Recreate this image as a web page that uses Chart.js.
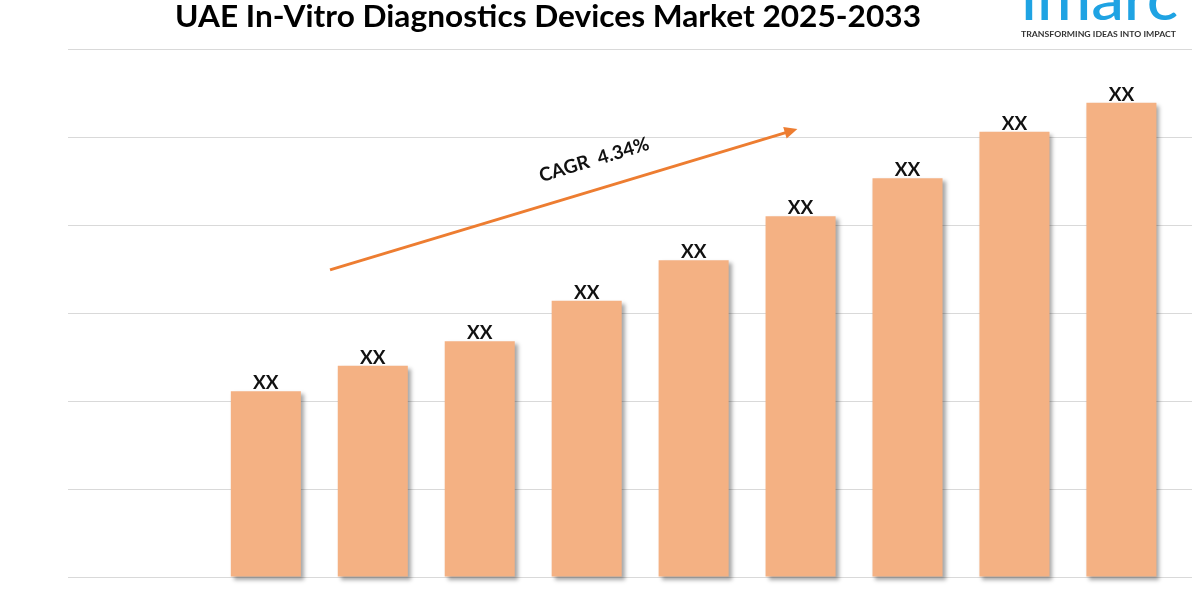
<!DOCTYPE html>
<html><head><meta charset="utf-8">
<script src="https://cdn.jsdelivr.net/npm/chart.js@4/dist/chart.umd.min.js"></script>
<style>html,body{margin:0;padding:0;background:#fff}#wrap{width:1200px;height:600px;position:relative}</style>
</head><body><div id="wrap"><canvas id="c" width="1200" height="600"></canvas></div>
<script>
// ---- data ----
const years = [2025, 2026, 2027, 2028, 2029, 2030, 2031, 2032, 2033];
const values = [2.11, 2.40, 2.68, 3.14, 3.60, 4.10, 4.53, 5.06, 5.39];
const valueLabels = ['XX', 'XX', 'XX', 'XX', 'XX', 'XX', 'XX', 'XX', 'XX'];
const yTicks = [0, 1, 2, 3, 4, 5, 6];
const titleText = 'UAE In-Vitro Diagnostics Devices Market 2025-2033';
const cagrText = 'CAGR  4.34%';
const arrowFrom = [2025.6, 3.49];
const arrowTo = [2029.97, 5.09];
const cagrAt = [2028.07, 4.74];
const xRange = [2023.15, 2033.66];
const logoText = 'imarc';
const taglineText = 'TRANSFORMING IDEAS INTO IMPACT';

const BAR = '#F4B183';
const ORANGE = '#ED7D31';
const FONT = 'Lato, "Open Sans", sans-serif';

function fitText(ctx, text, x, y, width, align) {
  const w = ctx.measureText(text).width;
  const s = width / w;
  ctx.save();
  ctx.translate(x, y);
  ctx.scale(s, 1);
  ctx.textAlign = align;
  ctx.fillText(text, 0, 0);
  ctx.restore();
}

const decor = {
  id: 'decor',
  beforeDatasetsDraw(chart) {
    const ctx = chart.ctx;
    ctx.save();
    ctx.shadowColor = 'rgba(0,0,0,0.35)';
    ctx.shadowBlur = 4;
    ctx.shadowOffsetX = 3;
    ctx.shadowOffsetY = 3;
  },
  afterDatasetsDraw(chart) {
    const ctx = chart.ctx;
    ctx.restore();
    const meta = chart.getDatasetMeta(0);
    ctx.save();
    ctx.fillStyle = '#111';
    ctx.font = 'bold 19px ' + FONT;
    ctx.textAlign = 'center';
    ctx.textBaseline = 'alphabetic';
    meta.data.forEach((bar, i) => {
      ctx.fillText(valueLabels[i], bar.x, bar.y - 2);
    });
    ctx.restore();

    // CAGR arrow
    const xs = chart.scales.x, ys = chart.scales.y;
    const x1 = xs.getPixelForValue(arrowFrom[0]), y1 = ys.getPixelForValue(arrowFrom[1]);
    const x2 = xs.getPixelForValue(arrowTo[0]), y2 = ys.getPixelForValue(arrowTo[1]);
    const ang = Math.atan2(y2 - y1, x2 - x1);
    const headL = 13, headW = 6;
    ctx.save();
    ctx.strokeStyle = ORANGE;
    ctx.fillStyle = ORANGE;
    ctx.lineWidth = 3;
    ctx.beginPath();
    ctx.moveTo(x1, y1);
    ctx.lineTo(x2 - Math.cos(ang) * headL * 0.8, y2 - Math.sin(ang) * headL * 0.8);
    ctx.stroke();
    ctx.beginPath();
    ctx.moveTo(x2, y2);
    ctx.lineTo(x2 - Math.cos(ang) * headL - Math.sin(ang) * headW, y2 - Math.sin(ang) * headL + Math.cos(ang) * headW);
    ctx.lineTo(x2 - Math.cos(ang) * headL + Math.sin(ang) * headW, y2 - Math.sin(ang) * headL - Math.cos(ang) * headW);
    ctx.closePath();
    ctx.fill();
    ctx.restore();

    // CAGR text
    const tx = xs.getPixelForValue(cagrAt[0]), ty = ys.getPixelForValue(cagrAt[1]);
    ctx.save();
    ctx.translate(tx, ty);
    ctx.rotate(ang);
    ctx.fillStyle = '#111';
    ctx.font = 'bold 19px ' + FONT;
    ctx.textAlign = 'center';
    ctx.textBaseline = 'middle';
    ctx.fillText(cagrText, 0, 0);
    ctx.restore();
  },
  afterDraw(chart) {
    const ctx = chart.ctx;
    ctx.save();
    // title
    ctx.fillStyle = '#000';
    ctx.font = 'bold 31px ' + FONT;
    ctx.textBaseline = 'alphabetic';
    fitText(ctx, titleText, 548, 27, 746, 'center');
    // logo
    ctx.fillStyle = '#1FA3E3';
    ctx.font = '500 60px ' + FONT;
    fitText(ctx, logoText, 1021, 20, 157, 'left');
    ctx.fillStyle = '#333';
    ctx.font = 'bold 8px ' + FONT;
    fitText(ctx, taglineText, 1021, 37, 155, 'left');
    ctx.restore();
  }
};

new Chart(document.getElementById('c'), {
  type: 'bar',
  data: {
    datasets: [{
      data: years.map((y, i) => ({ x: y, y: values[i] })),
      backgroundColor: BAR,
      borderWidth: 0,
      categoryPercentage: 1,
      barPercentage: 0.655,
      clip: false
    }]
  },
  options: {
    responsive: false,
    animation: false,
    devicePixelRatio: 1,
    layout: { padding: { left: 68, right: 8, top: 49, bottom: 23 } },
    scales: {
      x: { type: 'linear', offset: false, min: xRange[0], max: xRange[1], display: false,
           afterBuildTicks(scale) { scale.ticks = years.map(v => ({ value: v })); } },
      y: {
        min: yTicks[0], max: yTicks[yTicks.length - 1],
        afterBuildTicks(scale) { scale.ticks = yTicks.map(v => ({ value: v })); },
        ticks: { display: false },
        grid: { color: '#D9D9D9', lineWidth: 1, drawTicks: false },
        border: { display: false }
      }
    },
    plugins: { legend: { display: false }, tooltip: { enabled: false }, title: { display: false } }
  },
  plugins: [decor]
});
</script>
</body></html>
